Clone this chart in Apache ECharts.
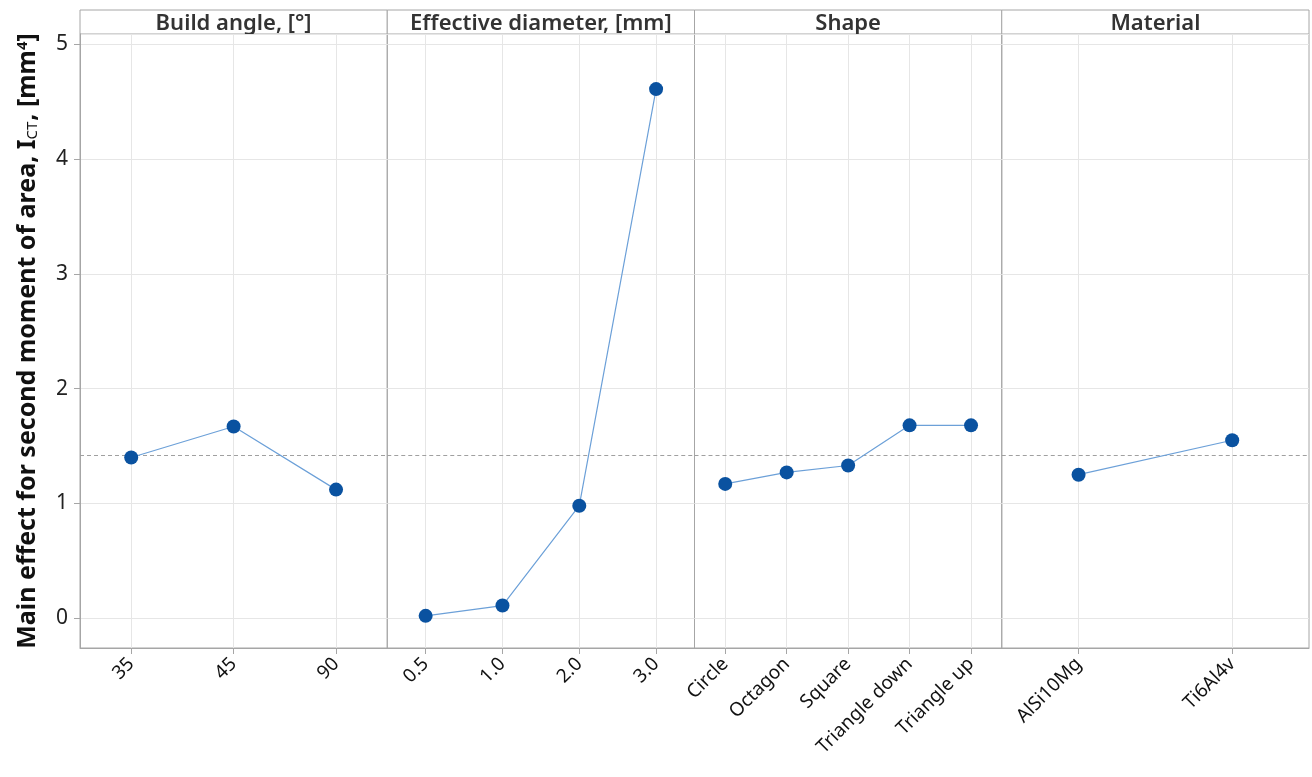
<!DOCTYPE html>
<html>
<head>
<meta charset="utf-8">
<script src="https://cdn.jsdelivr.net/npm/echarts@6/dist/echarts.min.js"></script>
<style>
  html, body { margin: 0; padding: 0; background: #fff; }
  #chart { width: 1312px; height: 777px; }
</style>
</head>
<body>
<div id="chart"></div>
<script>
// Main effects plot data: one panel per factor
const panelTitles = ['Build angle, [°]', 'Effective diameter, [mm]', 'Shape', 'Material'];

const buildAngleLevels = ['35', '45', '90'];
const buildAngleEffect = [1.40, 1.67, 1.12];

const diameterLevels = ['0.5', '1.0', '2.0', '3.0'];
const diameterEffect = [0.02, 0.11, 0.98, 4.61];

const shapeLevels = ['Circle', 'Octagon', 'Square', 'Triangle down', 'Triangle up'];
const shapeEffect = [1.17, 1.27, 1.33, 1.68, 1.68];

const materialLevels = ['AlSi10Mg', 'Ti6Al4v'];
const materialEffect = [1.25, 1.55];

const grandMean = 1.415;

const levels = [buildAngleLevels, diameterLevels, shapeLevels, materialLevels];
const effects = [buildAngleEffect, diameterEffect, shapeEffect, materialEffect];

// Layout
const plotLeft = 80, plotRight = 1309;
const stripTop = 10, plotTop = 34, plotBottom = 648;
const panelW = (plotRight - plotLeft) / 4;
const FONT = 'Noto Sans';
const frameColor = '#a6a6a6';
const gridColor = '#e6e6e6';

const grids = [], xAxes = [], yAxes = [], series = [], graphics = [];

levels.forEach((cats, i) => {
  const x0 = plotLeft + i * panelW;
  grids.push({
    left: x0, top: plotTop, width: panelW, height: plotBottom - plotTop,
    show: true, borderColor: frameColor, borderWidth: 1, containLabel: false
  });
  xAxes.push({
    type: 'category', gridIndex: i, data: cats, boundaryGap: true,
    axisLine: { show: true, onZero: false, lineStyle: { color: frameColor } },
    axisTick: { show: true, alignWithLabel: true, length: 6, lineStyle: { color: frameColor } },
    splitLine: { show: true, alignWithLabel: true, lineStyle: { color: gridColor } },
    axisLabel: { rotate: 45, fontSize: 19, color: '#111', fontFamily: FONT, margin: 13, interval: 0 }
  });
  yAxes.push({
    type: 'value', gridIndex: i, min: -0.26, max: 5.09,
    axisLine: { show: i === 0, lineStyle: { color: frameColor } },
    axisTick: { show: i === 0, length: 6, lineStyle: { color: frameColor } },
    axisLabel: { show: i === 0, fontSize: 21, color: '#222', fontFamily: FONT, margin: 12,
                 showMinLabel: false, showMaxLabel: false },
    splitLine: { show: true, lineStyle: { color: gridColor } },
    name: i === 0 ? '{b|Main effect for second moment of area, I}{s|CT}{b|, [mm}{p|4}{b|]}' : '',
    nameLocation: 'middle', nameRotate: 90, nameGap: 40,
    nameTextStyle: {
      rich: {
        b: { fontSize: 25, fontWeight: 'bold', color: '#111', fontFamily: FONT },
        s: { fontSize: 15, color: '#111', fontFamily: FONT, verticalAlign: 'bottom', padding: [9, 1, 0, 0] },
        p: { fontSize: 15, fontWeight: 'bold', color: '#111', fontFamily: FONT, verticalAlign: 'top', padding: [0, 0, 9, 0] }
      }
    }
  });
  series.push({
    type: 'line', xAxisIndex: i, yAxisIndex: i, data: effects[i],
    symbol: 'circle', symbolSize: 14,
    itemStyle: { color: '#0a52a0' },
    lineStyle: { color: '#6ca0d8', width: 1.2 },
    z: 5,
    markLine: {
      silent: true, symbol: 'none', label: { show: false },
      lineStyle: { color: '#a0a0a0', type: [4, 3], width: 1 },
      data: [{ yAxis: grandMean }], z: 2
    }
  });
  // header strip
  graphics.push({
    type: 'rect', silent: true,
    shape: { x: x0, y: stripTop, width: panelW, height: plotTop - stripTop },
    style: { fill: '#fff', stroke: frameColor, lineWidth: 1 }
  });
  graphics.push({
    type: 'text', silent: true,
    style: {
      text: panelTitles[i], x: x0 + panelW / 2, y: 24,
      align: 'center', verticalAlign: 'middle',
      font: `600 22px "${FONT}"`, fill: '#333'
    }
  });
});

const chart = echarts.init(document.getElementById('chart'), null, { renderer: 'canvas' });
chart.setOption({
  backgroundColor: '#fff',
  animation: false,
  grid: grids,
  xAxis: xAxes,
  yAxis: yAxes,
  series: series,
  graphic: graphics
});
</script>
</body>
</html>
